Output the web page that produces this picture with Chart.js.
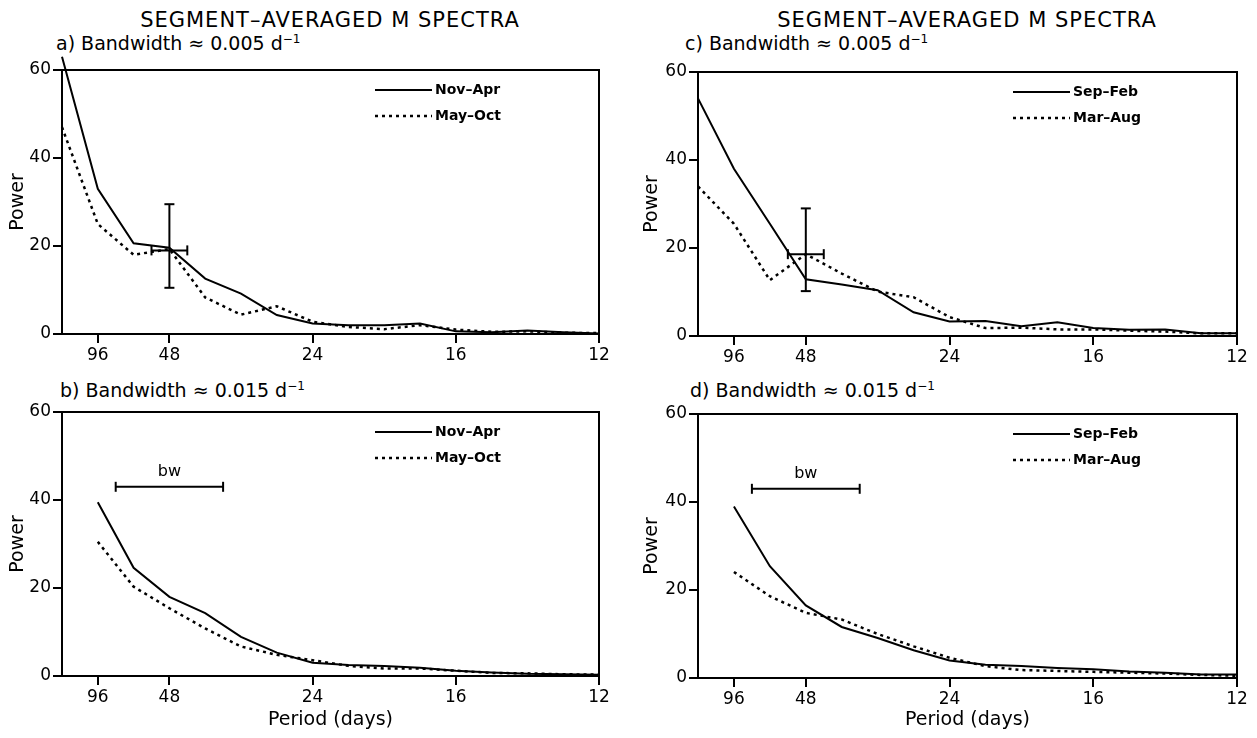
<!DOCTYPE html>
<html>
<head>
<meta charset="utf-8">
<script src="https://cdn.jsdelivr.net/npm/chart.js@4.4.1/dist/chart.umd.min.js"></script>
<style>
  body { margin: 0; background: #fff; width: 1257px; height: 738px; position: relative; overflow: hidden;
         font-family: "DejaVu Sans", sans-serif; color: #000; }
  canvas { position: absolute; }
  .title { position: absolute; font-size: 21px; letter-spacing: 1px; text-align: center; width: 500px; line-height: 24px; }
  .ptitle { position: absolute; font-size: 19px; line-height: 22px; white-space: nowrap; }
  .ptitle sup { font-size: 12px; vertical-align: 7px; line-height: 0; }
</style>
</head>
<body>
<div class="title" style="left:80px; top:8px">SEGMENT–AVERAGED M SPECTRA</div>
<div class="title" style="left:717px; top:8px">SEGMENT–AVERAGED M SPECTRA</div>
<div class="ptitle" style="left:56px; top:32px">a) Bandwidth ≈ 0.005 d<sup>−1</sup></div>
<div class="ptitle" style="left:60px; top:379px">b) Bandwidth ≈ 0.015 d<sup>−1</sup></div>
<div class="ptitle" style="left:685px; top:32px">c) Bandwidth ≈ 0.005 d<sup>−1</sup></div>
<div class="ptitle" style="left:690px; top:379px">d) Bandwidth ≈ 0.015 d<sup>−1</sup></div>

<canvas id="chartA" width="628" height="362" style="left:0; top:0"></canvas>
<canvas id="chartB" width="628" height="376" style="left:0; top:362px"></canvas>
<canvas id="chartC" width="629" height="362" style="left:628px; top:0"></canvas>
<canvas id="chartD" width="629" height="376" style="left:628px; top:362px"></canvas>

<script>
// frequency index k, frequency = k / 192 cycles per day
var harmonics = [1, 2, 3, 4, 5, 6, 7, 8, 9, 10, 11, 12, 13, 14, 15, 16];
var tickPeriods = [96, 48, 24, 16, 12];
var yTicks = [0, 20, 40, 60];

// a) bandwidth 0.005
var novAprA = [63, 33, 20.6, 19.6, 12.6, 9.2, 4.3, 2.4, 2.0, 2.0, 2.4, 0.6, 0.4, 0.8, 0.4, 0.1];
var mayOctA = [47, 25, 18, 19.3, 8.3, 4.4, 6.3, 2.8, 1.6, 1.1, 2.0, 1.0, 0.5, 0.6, 0.3, 0.2];
// b) bandwidth 0.015
var novAprB = [null, 39.5, 24.6, 18.0, 14.3, 8.9, 5.3, 3.0, 2.5, 2.3, 1.9, 1.2, 0.8, 0.5, 0.4, 0.3];
var mayOctB = [null, 30.5, 20.3, 15.4, 10.8, 6.7, 4.8, 3.6, 2.3, 1.7, 1.7, 1.2, 0.7, 0.6, 0.4, 0.3];
// c) bandwidth 0.005
var sepFebC = [54, 38, 25.5, 12.9, 11.7, 10.4, 5.4, 3.3, 3.4, 2.2, 3.1, 1.8, 1.4, 1.5, 0.6, 0.6];
var marAugC = [34, 25.5, 12.7, 18.6, 14.2, 10.1, 8.8, 4.3, 1.8, 1.9, 1.5, 1.5, 1.2, 1.0, 0.6, 0.6];
// d) bandwidth 0.015
var sepFebD = [null, 39, 25.4, 16.5, 11.6, 9.1, 6.3, 4.0, 3.0, 2.7, 2.3, 2.0, 1.5, 1.2, 0.8, 0.8];
var marAugD = [null, 24.1, 18.6, 14.8, 13.3, 10.0, 7.2, 4.6, 2.7, 1.8, 1.6, 1.4, 1.2, 1.0, 0.7, 0.5];

// confidence bars (power low, high, level of horizontal bar), centred at period 48
var errA = [10.5, 29.5, 19];
var errC = [10.2, 29, 18.6];
// bandwidth marker (harmonic from, to, power level)
var bwB = [2.5, 5.5, 43];
var bwD = [2.5, 5.5, 43];

Chart.defaults.font.family = '"DejaVu Sans", sans-serif';
Chart.defaults.color = '#000';

function toXY(values) {
    return harmonics.map(function (k, i) { return { x: k / 192, y: values[i] }; });
}

function line(label, values, dotted) {
    return {
        label: label,
        data: toXY(values),
        borderColor: '#000',
        borderWidth: dotted ? 2.5 : 2,
        borderDash: dotted ? [3, 4] : [],
        pointRadius: 0,
        tension: 0,
        clip: false
    };
}

function bar(points, rotation) {
    return {
        label: '',
        data: points,
        borderColor: '#000',
        borderWidth: 2,
        pointStyle: 'line',
        pointRadius: 5,
        pointBorderWidth: 2,
        pointBorderColor: '#000',
        pointRotation: rotation
    };
}

function errorBars(e) {
    var f = 1 / 48;
    return [
        bar([{ x: f, y: e[0] }, { x: f, y: e[1] }], 0),
        bar([{ x: f - 1 / 384, y: e[2] }, { x: f + 1 / 384, y: e[2] }], 90)
    ];
}

function bwBar(b) {
    return [bar([{ x: b[0] / 192, y: b[2] }, { x: b[1] / 192, y: b[2] }], 90)];
}

var framePlugin = {
    id: 'frame',
    afterDatasetsDraw: function (chart) {
        var ctx = chart.ctx, a = chart.chartArea;
        var opts = chart.options.plugins.frame;
        ctx.save();
        ctx.strokeStyle = '#000';
        ctx.lineWidth = 2;
        ctx.strokeRect(a.left, a.top, a.right - a.left, a.bottom - a.top);
        // legend
        ctx.font = 'bold 14px "DejaVu Sans"';
        ctx.textBaseline = 'middle';
        ctx.fillStyle = '#000';
        chart.data.datasets.slice(0, 2).forEach(function (ds, i) {
            var y = a.top + 20 + i * 26;
            ctx.lineWidth = ds.borderWidth;
            ctx.setLineDash(ds.borderDash);
            ctx.beginPath();
            ctx.moveTo(a.right - 224, y);
            ctx.lineTo(a.right - 167, y);
            ctx.stroke();
            ctx.setLineDash([]);
            ctx.fillText(ds.label, a.right - 164, y);
        });
        if (opts.bw) {
            ctx.font = '16px "DejaVu Sans"';
            ctx.textAlign = 'center';
            ctx.textBaseline = 'middle';
            ctx.fillText('bw', chart.scales.x.getPixelForValue((opts.bw[0] + opts.bw[1]) / 384),
                chart.scales.y.getPixelForValue(opts.bw[2] + 3.5));
        }
        ctx.restore();
    }
};

function makeChart(id, p) {
    var datasets = [line(p.names[0], p.series[0], false), line(p.names[1], p.series[1], true)].concat(p.extra);
    new Chart(id, {
        type: 'line',
        data: { datasets: datasets },
        plugins: [framePlugin],
        options: {
            responsive: false,
            animation: false,
            devicePixelRatio: 1,
            layout: { padding: { top: p.padTop, left: p.padLeft, right: p.padRight, bottom: p.padBottom } },
            plugins: {
                legend: { display: false },
                tooltip: { enabled: false },
                frame: { bw: p.bw }
            },
            scales: {
                x: {
                    type: 'linear',
                    min: 1 / 192,
                    max: 1 / 12,
                    afterBuildTicks: function (s) { s.ticks = tickPeriods.map(function (t) { return { value: 1 / t }; }); },
                    ticks: {
                        callback: function (v) { return String(Math.round(1 / v)); },
                        font: { size: 17 }, padding: 2, maxRotation: 0, autoSkip: false
                    },
                    grid: { drawOnChartArea: false, tickLength: 9, color: '#000', lineWidth: 2 },
                    border: { color: '#000', width: 2 },
                    title: { display: p.xTitle, text: 'Period (days)', font: { size: 19 }, padding: { top: 0, bottom: 4 } },
                    afterFit: function (s) { s.height = p.xH; }
                },
                y: {
                    min: 0,
                    max: 60,
                    afterBuildTicks: function (s) { s.ticks = yTicks.map(function (v) { return { value: v }; }); },
                    ticks: { font: { size: 17 }, padding: 2 },
                    grid: { drawOnChartArea: false, tickLength: 9, color: '#000', lineWidth: 2 },
                    border: { color: '#000', width: 2 },
                    title: { display: true, text: 'Power', font: { size: 19 }, padding: { top: 7, bottom: 0 } },
                    afterFit: function (s) { s.width = p.yW; }
                }
            }
        }
    });
}

makeChart('chartA', {
    names: ['Nov–Apr', 'May–Oct'], series: [novAprA, mayOctA], extra: errorBars(errA),
    padTop: 70, padLeft: 0, padRight: 29, padBottom: 0, xH: 28, yW: 62, xTitle: false
});
makeChart('chartB', {
    names: ['Nov–Apr', 'May–Oct'], series: [novAprB, mayOctB], extra: bwBar(bwB), bw: bwB,
    padTop: 50, padLeft: 0, padRight: 29, padBottom: 3, xH: 59, yW: 62, xTitle: true
});
makeChart('chartC', {
    names: ['Sep–Feb', 'Mar–Aug'], series: [sepFebC, marAugC], extra: errorBars(errC),
    padTop: 72, padLeft: 6, padRight: 20, padBottom: 0, xH: 26, yW: 64, xTitle: false
});
makeChart('chartD', {
    names: ['Sep–Feb', 'Mar–Aug'], series: [sepFebD, marAugD], extra: bwBar(bwD), bw: bwD,
    padTop: 52, padLeft: 6, padRight: 20, padBottom: 3, xH: 57, yW: 64, xTitle: true
});
</script>
</body>
</html>
